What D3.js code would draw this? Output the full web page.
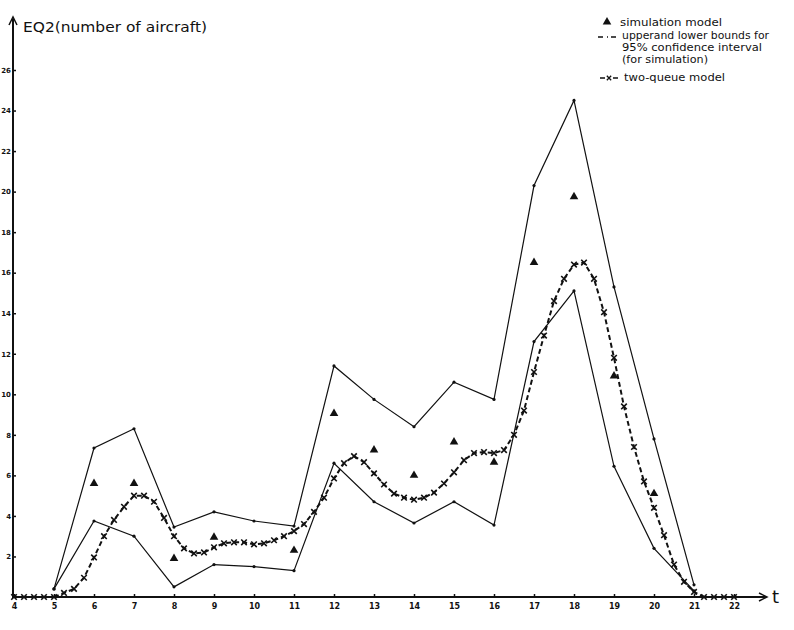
<!DOCTYPE html>
<html>
<head>
<meta charset="utf-8">
<script src="https://cdn.jsdelivr.net/npm/d3@7"></script>
<style>
  body { margin: 0; background: #fff; }
  svg { display: block; }
  text { font-family: 'DejaVu Sans', sans-serif; fill: #111; }
</style>
</head>
<body>
<svg id="chart" width="794" height="630"></svg>
<script>
// tick labels
var xTicks = [4, 5, 6, 7, 8, 9, 10, 11, 12, 13, 14, 15, 16, 17, 18, 19, 20, 21, 22];
var yTicks = [2, 4, 6, 8, 10, 12, 14, 16, 18, 20, 22, 24, 26];

var boundT = [5, 6, 7, 8, 9, 10, 11, 12, 13, 14, 15, 16, 17, 18, 19, 20, 21];
var upper  = [0.4, 7.35, 8.3, 3.45, 4.2, 3.75, 3.5, 11.4, 9.75, 8.4, 10.6, 9.75, 20.3, 24.5, 15.3, 7.8, 0.6];
var lower  = [0.4, 3.75, 3.0, 0.5, 1.6, 1.5, 1.3, 6.6, 4.7, 3.65, 4.7, 3.55, 12.6, 15.1, 6.45, 2.4, 0.3];

// simulation model (triangles)
var simT = [6, 7, 8, 9, 11, 12, 13, 14, 15, 16, 17, 18, 19, 20];
var sim  = [5.6, 5.6, 1.9, 2.95, 2.3, 9.05, 7.25, 6.0, 7.65, 6.65, 16.5, 19.75, 10.9, 5.1];

// two-queue model (x markers, quarter hours)
var queueT = [4, 4.25, 4.5, 4.75, 5, 5.25, 5.5, 5.75, 6, 6.25, 6.5, 6.75, 7, 7.25, 7.5, 7.75,
  8, 8.25, 8.5, 8.75, 9, 9.25, 9.5, 9.75, 10, 10.25, 10.5, 10.75, 11, 11.25, 11.5, 11.75,
  12, 12.25, 12.5, 12.75, 13, 13.25, 13.5, 13.75, 14, 14.25, 14.5, 14.75, 15, 15.25, 15.5, 15.75,
  16, 16.25, 16.5, 16.75, 17, 17.25, 17.5, 17.75, 18, 18.25, 18.5, 18.75, 19, 19.25, 19.5, 19.75,
  20, 20.25, 20.5, 20.75, 21, 21.25, 21.5, 21.75, 22];
var queue = [0, 0, 0, 0, 0, 0.2, 0.4, 0.95, 1.95, 3.0, 3.8, 4.45, 5.0, 5.0, 4.7, 3.9,
  3.0, 2.4, 2.15, 2.2, 2.45, 2.65, 2.7, 2.7, 2.6, 2.65, 2.8, 3.0, 3.25, 3.6, 4.2, 4.9,
  5.85, 6.6, 6.95, 6.65, 6.1, 5.55, 5.1, 4.9, 4.8, 4.9, 5.15, 5.6, 6.15, 6.75, 7.1, 7.15,
  7.1, 7.25, 8.0, 9.2, 11.1, 12.9, 14.6, 15.7, 16.4, 16.5, 15.7, 14.05, 11.8, 9.4, 7.4, 5.7,
  4.4, 3.05, 1.6, 0.75, 0.25, 0, 0, 0, 0];

var svg = d3.select('#chart');

var x = d3.scaleLinear().domain([4, 22]).range([14, 734]);
var y = d3.scaleLinear().domain([0, 26]).range([597, 70]);

var ink = '#111';

// axes (ticks + labels from d3, the arrowed lines drawn by hand)
var xAxis = svg.append('g')
  .attr('transform', 'translate(0,597)')
  .call(d3.axisBottom(x).tickValues(xTicks).tickSize(-3).tickPadding(6).tickFormat(d3.format('d')));
xAxis.select('.domain').remove();
xAxis.selectAll('line').attr('stroke', ink).attr('stroke-width', 1.5);
xAxis.selectAll('text').style('font-size', '8px').style('font-weight', 'bold');

var yAxis = svg.append('g')
  .attr('transform', 'translate(13,0)')
  .call(d3.axisLeft(y).tickValues(yTicks).tickSize(-3).tickPadding(2).tickFormat(d3.format('d')));
yAxis.select('.domain').remove();
yAxis.selectAll('line').attr('stroke', ink).attr('stroke-width', 1.5);
yAxis.selectAll('text').style('font-size', '7px').style('font-weight', 'bold');

svg.append('line').attr('x1', 13).attr('x2', 13).attr('y1', 598).attr('y2', 19)
  .attr('stroke', ink).attr('stroke-width', 2);
svg.append('path').attr('d', 'M9,25 L13,17 L17,25').attr('fill', 'none').attr('stroke', ink).attr('stroke-width', 1.5);
svg.append('line').attr('x1', 12).attr('x2', 766).attr('y1', 597).attr('y2', 597)
  .attr('stroke', ink).attr('stroke-width', 2);
svg.append('path').attr('d', 'M759,593 L767,597 L759,601').attr('fill', 'none').attr('stroke', ink).attr('stroke-width', 1.5);

svg.append('text').attr('x', 772).attr('y', 603).style('font-size', '18px').text('t');
svg.append('text').attr('x', 23).attr('y', 32).style('font-size', '14px')
  .attr('textLength', 184).attr('lengthAdjust', 'spacingAndGlyphs')
  .text('EQ2(number of aircraft)');

// bounds
var boundLine = d3.line().x(function(d){ return x(d[0]); }).y(function(d){ return y(d[1]); });
[upper, lower].forEach(function(vals){
  var pts = boundT.map(function(t, i){ return [t, vals[i]]; });
  svg.append('path').datum(pts)
    .attr('d', boundLine)
    .attr('fill', 'none').attr('stroke', ink).attr('stroke-width', 1.2);
  svg.append('g').selectAll('circle').data(pts).enter().append('circle')
    .attr('cx', function(d){ return x(d[0]); })
    .attr('cy', function(d){ return y(d[1]); })
    .attr('r', 1.6).attr('fill', ink);
});

// two-queue model
var qPts = queueT.map(function(t, i){ return [t, queue[i]]; });
svg.append('path').datum(qPts)
  .attr('d', boundLine)
  .attr('fill', 'none').attr('stroke', ink).attr('stroke-width', 2)
  .attr('stroke-dasharray', '5,3');
var cross = d3.symbol().type(d3.symbolX).size(22);
svg.append('g').selectAll('path').data(qPts).enter().append('path')
  .attr('transform', function(d){ return 'translate(' + x(d[0]) + ',' + y(d[1]) + ')'; })
  .attr('d', cross)
  .attr('fill', 'none').attr('stroke', ink).attr('stroke-width', 1.6);

// simulation triangles
var tri = d3.symbol().type(d3.symbolTriangle).size(32);
svg.append('g').selectAll('path').data(simT).enter().append('path')
  .attr('transform', function(t, i){ return 'translate(' + x(t) + ',' + y(sim[i]) + ')'; })
  .attr('d', tri).attr('fill', ink);

// legend
var legend = svg.append('g').style('font-size', '11px');
legend.append('path').attr('transform', 'translate(607,22)').attr('d', tri).attr('fill', ink);
legend.append('text').attr('x', 620).attr('y', 26).attr('textLength', 102).attr('lengthAdjust', 'spacingAndGlyphs')
  .text('simulation model');
legend.append('path').attr('d', 'M598,37 L603,37 M607,37 L608,37 M611,37 L616,37')
  .attr('stroke', ink).attr('stroke-width', 1.5);
legend.append('text').attr('x', 622).attr('y', 39).attr('textLength', 147).attr('lengthAdjust', 'spacingAndGlyphs')
  .text('upperand lower bounds for');
legend.append('text').attr('x', 622).attr('y', 51).attr('textLength', 140).attr('lengthAdjust', 'spacingAndGlyphs')
  .text('95% confidence interval');
legend.append('text').attr('x', 622).attr('y', 63).attr('textLength', 86).attr('lengthAdjust', 'spacingAndGlyphs')
  .text('(for simulation)');
legend.append('path').attr('d', 'M600,78 L605,78 M613,78 L618,78').attr('stroke', ink).attr('stroke-width', 1.5);
legend.append('path').attr('transform', 'translate(609,78)').attr('d', d3.symbol().type(d3.symbolX).size(14))
  .attr('fill', 'none').attr('stroke', ink).attr('stroke-width', 1.3);
legend.append('text').attr('x', 624).attr('y', 81).attr('textLength', 101).attr('lengthAdjust', 'spacingAndGlyphs')
  .text('two-queue model');
</script>
</body>
</html>
